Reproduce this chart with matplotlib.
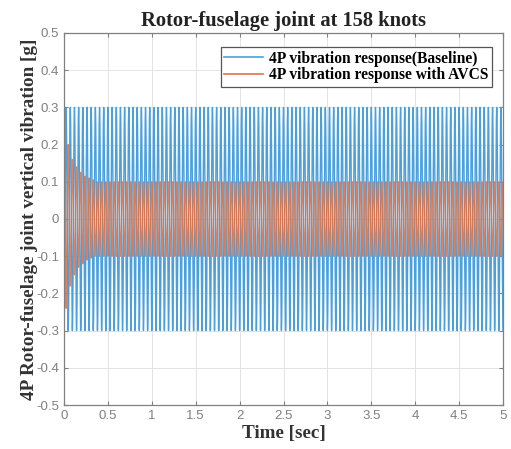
import numpy as np
import matplotlib
matplotlib.use("Agg")
import matplotlib.pyplot as plt

# ---- data ----
t_end = 5.0                 # seconds
freq_hz = 21.0              # 4P frequency (about 10.5 cycles per 0.5 s)
baseline_amp = 0.3          # g
# AVCS half-cycle peak amplitudes (alternating +/-) read at the start, then steady 0.1
avcs_half_peaks = [0.30, -0.24, 0.20, -0.18, 0.16, -0.15, 0.14, -0.13,
                   0.125, -0.12, 0.115, -0.11, 0.11, -0.105, 0.105, -0.10]
avcs_steady = 0.10

xticks = [0, 0.5, 1, 1.5, 2, 2.5, 3, 3.5, 4, 4.5, 5]
yticks = [-0.5, -0.4, -0.3, -0.2, -0.1, 0, 0.1, 0.2, 0.3, 0.4, 0.5]
ytick_labels = ["-0.5", "-0.4", "-0.3", "-0.2", "-0.1", "0", "0.1", "0.2", "0.3", "0.4", "0.5"]
xtick_labels = ["0", "0.5", "1", "1.5", "2", "2.5", "3", "3.5", "4", "4.5", "5"]

t = np.linspace(0, t_end, 60001)
phase = 2 * np.pi * freq_hz * t
baseline = -baseline_amp * np.cos(phase)
half_idx = np.floor(2 * freq_hz * t + 0.5).astype(int)
amps = np.array([abs(avcs_half_peaks[i]) if i < len(avcs_half_peaks) else avcs_steady
                 for i in half_idx])
avcs = amps * np.cos(phase)

blue = "#4a9fdc"
orange = "#e27346"

fig = plt.figure(figsize=(5.11, 4.49), dpi=100)
ax = fig.add_axes([64/511, 1-405/449, (503-64)/511, (405-33)/449])
ax.plot(t, baseline, color=blue, lw=1.0, label="4P vibration response(Baseline)")
ax.plot(t, avcs, color=orange, lw=1.0, alpha=0.9, label="4P vibration response with AVCS")
ax.set_xlim(0, 5)
ax.set_ylim(-0.5, 0.5)
ax.set_xticks(xticks)
ax.set_xticklabels(xtick_labels)
ax.set_yticks(yticks)
ax.set_yticklabels(ytick_labels)
ax.grid(True, color="#e3e3e3", lw=0.7)
ax.set_axisbelow(True)
for s in ax.spines.values():
    s.set_color("#808080")
    s.set_linewidth(0.9)
ax.tick_params(direction="in", length=3, colors="#808080", labelcolor="#808080",
               labelsize=9.5, top=True, right=True, labeltop=False, labelright=False)
for lab in ax.get_xticklabels() + ax.get_yticklabels():
    lab.set_family("Liberation Sans")

serif = "Liberation Serif"
ax.set_title("Rotor-fuselage joint at 158 knots", family=serif, fontweight="bold",
             fontsize=14.8, color="#222222", pad=5)
ax.set_xlabel("Time [sec]", family=serif, fontweight="bold", fontsize=13.8,
              color="#333333", labelpad=2)
ax.set_ylabel("4P Rotor-fuselage joint vertical vibration [g]", family=serif,
              fontweight="bold", fontsize=13.8, color="#333333", labelpad=-1)

leg = ax.legend(loc="upper right", prop={"family": serif, "weight": "bold", "size": 11.2},
                frameon=True, fancybox=False, handlelength=2.5, borderpad=0.25,
                labelspacing=0.02, handletextpad=0.35, borderaxespad=0.0,
                bbox_to_anchor=(492/511, 1-47/449), bbox_transform=fig.transFigure)
leg.get_frame().set_edgecolor("#555555")
leg.get_frame().set_linewidth(0.9)
leg.get_frame().set_alpha(1)
for line in leg.get_lines():
    line.set_linewidth(1.2)
    line.set_alpha(1)

fig.savefig("out.png", dpi=100)
